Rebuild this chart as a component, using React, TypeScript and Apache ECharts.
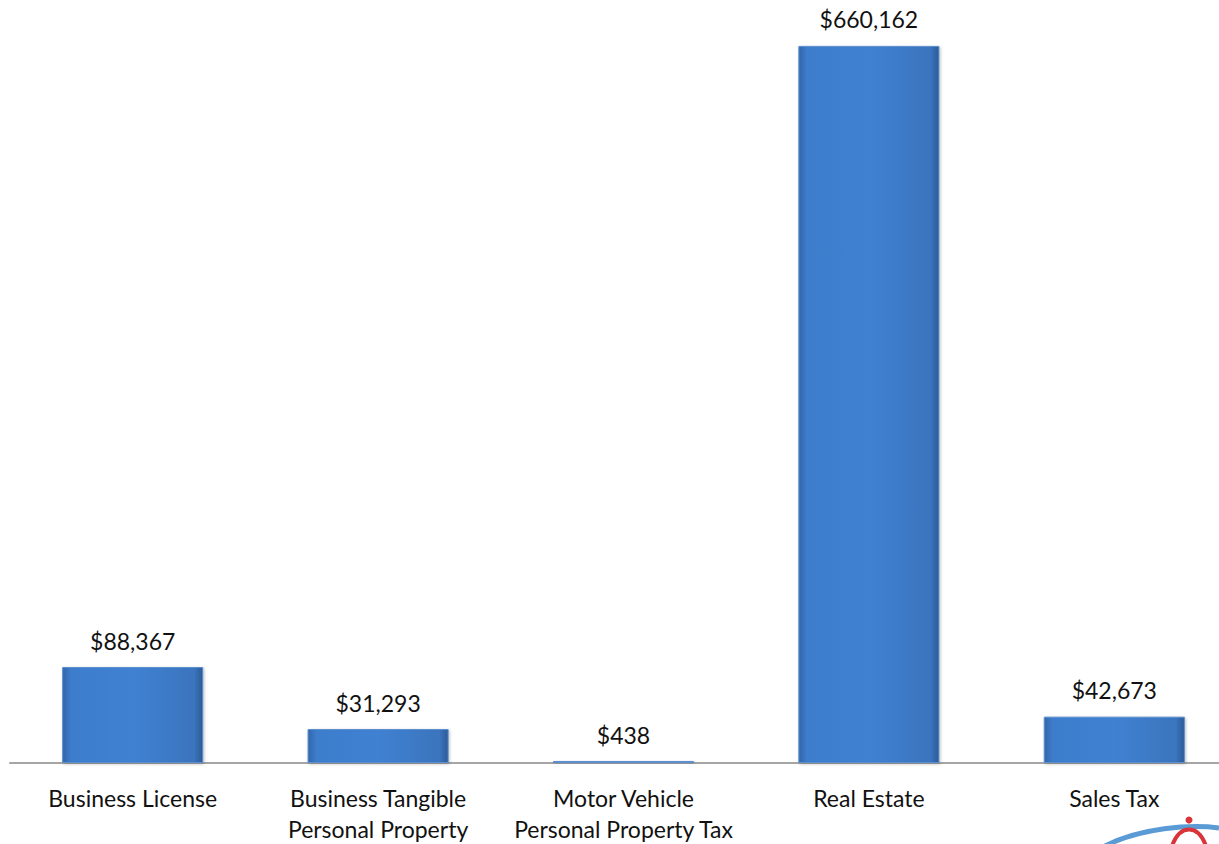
import React, { useEffect, useRef } from "react";
import * as echarts from "echarts";

const categories = [
  "Business License",
  "Business Tangible\nPersonal Property",
  "Motor Vehicle\nPersonal Property Tax",
  "Real Estate",
  "Sales Tax",
];
const values = [88367, 31293, 438, 660162, 42673];

const fmt = (v: number) => "$" + v.toLocaleString("en-US");

export default function App() {
  const ref = useRef<HTMLDivElement>(null);
  useEffect(() => {
    if (!ref.current) return;
    const chart = echarts.init(ref.current, null, { renderer: "svg" });
    const font = "Lato, 'Open Sans', sans-serif";
    chart.setOption({
      animation: false,
      backgroundColor: "#ffffff",
      grid: { left: 10, right: 0, top: 20, bottom: 81, containLabel: false },
      xAxis: {
        type: "category",
        data: categories,
        axisLine: { lineStyle: { color: "#a6a6a6", width: 2 } },
        axisTick: { show: false },
        axisLabel: {
          color: "#111",
          fontFamily: font,
          fontSize: 23,
          lineHeight: 31,
          margin: 19,
          interval: 0,
        },
      },
      yAxis: {
        type: "value",
        min: 0,
        max: 684000,
        show: false,
        splitLine: { show: false },
      },
      series: [
        {
          type: "bar",
          data: values,
          barCategoryGap: "42.5%",
          barMinHeight: 2,
          itemStyle: {
            color: {
              type: "linear",
              x: 0,
              y: 0,
              x2: 1,
              y2: 0,
              colorStops: [
                { offset: 0, color: "#3266aa" },
                { offset: 0.06, color: "#3d7dcc" },
                { offset: 0.5, color: "#4081d2" },
                { offset: 0.94, color: "#3a74bd" },
                { offset: 1, color: "#2c5a96" },
              ],
            },
            borderColor: "#5c8fcf",
            borderWidth: 1,
            shadowColor: "rgba(0,0,0,0.25)",
            shadowBlur: 3,
            shadowOffsetX: 1,
            shadowOffsetY: 1,
          },
          label: {
            show: true,
            position: "top",
            distance: 15,
            color: "#111",
            fontFamily: font,
            fontSize: 23,
            formatter: (p: any) => fmt(p.value),
          },
        },
      ],
      graphic: [
        {
          type: "bezierCurve",
          shape: { x1: 1105, y1: 846, x2: 1219, y2: 828, cpx1: 1140, cpy1: 828, cpx2: 1190, cpy2: 824 },
          style: { stroke: "#5b9bd5", lineWidth: 5, fill: null },
        },
        {
          type: "circle",
          shape: { cx: 1189, cy: 820, r: 3.5 },
          style: { fill: "#d9343a" },
        },
        {
          type: "bezierCurve",
          shape: { x1: 1172, y1: 846, x2: 1206, y2: 846, cpx1: 1180, cpy1: 824, cpx2: 1198, cpy2: 824 },
          style: { stroke: "#d9343a", lineWidth: 4, fill: null },
        },
      ],
    });
    return () => chart.dispose();
  }, []);
  return (
    <div
      style={{
        position: "absolute",
        left: 0,
        top: 0,
        width: 1219,
        height: 844,
        overflow: "hidden",
        background: "#fff",
      }}
    >
      <div ref={ref} style={{ width: 1237, height: 844 }} />
    </div>
  );
}
